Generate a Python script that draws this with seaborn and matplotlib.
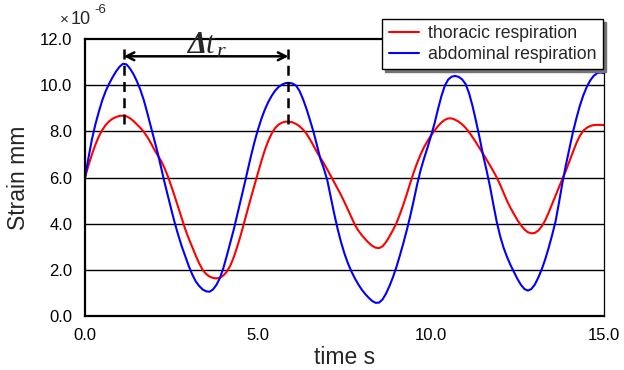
import pandas as pd
import numpy as np
import matplotlib
matplotlib.use("Agg")
import matplotlib.pyplot as plt
import seaborn as sns

# Datos: muestras cada 0.1 s (deformacion x1e-6)
t_s = np.round(np.arange(0, 151) * 0.1, 1)

v_thoracic = [
    6.0, 6.52, 7.0, 7.42, 7.78, 8.06, 8.28, 8.44, 8.55, 8.62,       # 0.0 - 0.9
    8.67, 8.68, 8.65, 8.57, 8.45, 8.3, 8.15, 7.98, 7.76, 7.5,       # 1.0 - 1.9
    7.22, 6.96, 6.72, 6.4, 6.03, 5.6, 5.15, 4.68, 4.2, 3.75,        # 2.0 - 2.9
    3.35, 2.98, 2.62, 2.28, 2.0, 1.82, 1.71, 1.65, 1.63, 1.66,      # 3.0 - 3.9
    1.76, 1.92, 2.18, 2.55, 3.0, 3.5, 4.05, 4.6, 5.15, 5.68,        # 4.0 - 4.9
    6.2, 6.72, 7.2, 7.6, 7.92, 8.15, 8.3, 8.38, 8.42, 8.42,         # 5.0 - 5.9
    8.39, 8.32, 8.22, 8.08, 7.9, 7.66, 7.39, 7.11, 6.86, 6.62,      # 6.0 - 6.9
    6.35, 6.08, 5.8, 5.52, 5.24, 4.93, 4.6, 4.26, 3.95, 3.7,        # 7.0 - 7.9
    3.5, 3.33, 3.17, 3.04, 2.96, 2.94, 3.02, 3.2, 3.45, 3.72,       # 8.0 - 8.9
    4.02, 4.4, 4.82, 5.28, 5.76, 6.22, 6.63, 7.0, 7.32, 7.58,       # 9.0 - 9.9
    7.82, 8.03, 8.22, 8.38, 8.5, 8.56, 8.56, 8.5, 8.42, 8.3,        # 10.0 - 10.9
    8.15, 7.97, 7.75, 7.52, 7.28, 7.04, 6.79, 6.54, 6.28, 6.0,      # 11.0 - 11.9
    5.68, 5.33, 4.98, 4.68, 4.41, 4.15, 3.93, 3.75, 3.63, 3.58,     # 12.0 - 12.9
    3.6, 3.7, 3.88, 4.14, 4.48, 4.85, 5.23, 5.6, 5.95, 6.3,         # 13.0 - 13.9
    6.7, 7.1, 7.48, 7.8, 8.02, 8.15, 8.23, 8.27, 8.28, 8.28,        # 14.0 - 14.9
    8.27]                                                           # 15.0

v_abdominal = [
    6.0, 6.85, 7.65, 8.3, 8.85, 9.35, 9.75, 10.07, 10.35, 10.6,     # 0.0 - 0.9
    10.8, 10.93, 10.9, 10.72, 10.48, 10.17, 9.8, 9.35, 8.8, 8.22,   # 1.0 - 1.9
    7.65, 7.07, 6.42, 5.78, 5.18, 4.58, 4.0, 3.48, 3.0, 2.58,       # 2.0 - 2.9
    2.16, 1.8, 1.5, 1.3, 1.15, 1.07, 1.05, 1.15, 1.35, 1.65,        # 3.0 - 3.9
    2.08, 2.62, 3.18, 3.75, 4.38, 5.0, 5.65, 6.3, 6.95, 7.55,       # 4.0 - 4.9
    8.08, 8.55, 8.95, 9.28, 9.55, 9.77, 9.93, 10.03, 10.09, 10.1,   # 5.0 - 5.9
    10.07, 9.98, 9.75, 9.4, 8.98, 8.5, 8.0, 7.42, 6.82, 6.4,        # 6.0 - 6.9
    5.9, 5.18, 4.45, 3.78, 3.2, 2.7, 2.28, 1.93, 1.63, 1.37,        # 7.0 - 7.9
    1.14, 0.95, 0.79, 0.65, 0.57, 0.58, 0.72, 0.97, 1.3, 1.68,      # 8.0 - 8.9
    2.12, 2.62, 3.15, 3.72, 4.33, 5.0, 5.7, 6.32, 6.83, 7.3,        # 9.0 - 9.9
    7.8, 8.33, 8.95, 9.52, 9.98, 10.25, 10.37, 10.4, 10.36, 10.25,  # 10.0 - 10.9
    10.05, 9.65, 9.1, 8.45, 7.75, 7.0, 6.35, 5.65, 4.85, 4.08,      # 11.0 - 11.9
    3.45, 2.95, 2.55, 2.2, 1.9, 1.6, 1.35, 1.17, 1.1, 1.17,         # 12.0 - 12.9
    1.36, 1.66, 2.02, 2.45, 2.95, 3.5, 4.1, 4.92, 5.78, 6.55,       # 13.0 - 13.9
    7.25, 7.95, 8.55, 9.1, 9.55, 9.92, 10.2, 10.4, 10.52, 10.55,    # 14.0 - 14.9
    10.52]                                                          # 15.0

series_names = ["thoracic respiration", "abdominal respiration"]
series_colors = ["#ff0000", "#0000ff"]
peak_times = [1.12, 5.88]
x_ticks = [0, 5, 10, 15]
y_ticks = [0, 2, 4, 6, 8, 10, 12]

df = pd.concat([
    pd.DataFrame({"t": t_s, "strain": v_thoracic, "serie": series_names[0]}),
    pd.DataFrame({"t": t_s, "strain": v_abdominal, "serie": series_names[1]}),
])

sns.set_style("white")
plt.rcParams['font.family'] = ['Liberation Sans', 'DejaVu Sans']

fig = plt.figure(figsize=(6.24, 3.70), dpi=100)
ax = fig.add_axes([85/624, 54/370, 519/624, 277/370])

sns.lineplot(data=df, x="t", y="strain", hue="serie",
             palette=dict(zip(series_names, series_colors)),
             linewidth=1.5, ax=ax, legend=False)

ax.set_xlim(0, 15)
ax.set_ylim(0, 12)
ax.set_xticks(x_ticks)
ax.set_xticklabels([f"{v:.1f}" for v in x_ticks])
ax.set_yticks(y_ticks)
ax.set_yticklabels([f"{v:.1f}" for v in y_ticks])
ax.tick_params(axis='x', direction='in', length=5, width=1.2, pad=9, labelsize=12, colors='black')
ax.tick_params(axis='y', direction='out', length=3, width=1, pad=6, labelsize=12, colors='black')
for y in y_ticks[1:-1]:
    ax.axhline(y, color='black', linewidth=1.0, zorder=0)

for side in ['left', 'bottom', 'top']:
    ax.spines[side].set_linewidth(1.6)
    ax.spines[side].set_color('black')
ax.spines['right'].set_linewidth(0.9)
ax.spines['right'].set_color('black')

ax.set_xlabel("time s", fontsize=16.5, labelpad=2)
ax.set_ylabel("Strain mm", fontsize=16.5, labelpad=7)

# Delta t_r entre los dos picos
for pt in peak_times:
    ax.plot([pt, pt], [8.3, 11.75], color='black', linestyle=(0, (4, 2.5)),
            linewidth=1.8, clip_on=False)
ax.annotate("", xy=(peak_times[0], 11.25), xytext=(peak_times[1], 11.25),
            arrowprops=dict(arrowstyle='<->', color='black', lw=1.8,
                            shrinkA=0, shrinkB=0, mutation_scale=14),
            annotation_clip=False)
serif = ['Liberation Serif', 'DejaVu Serif']
ax.text(2.96, 11.4, "Δ", fontsize=22, family=serif, style='italic', weight='bold',
        ha='left', va='baseline', clip_on=False)
ax.text(3.5, 11.4, "t", fontsize=22, family=serif, style='italic',
        ha='left', va='baseline', clip_on=False)
ax.text(3.78, 11.2, "r", fontsize=16, family=serif, style='italic',
        ha='left', va='baseline', clip_on=False)

fig.text(60/624, 1 - 24/370, "×", fontsize=11, va='baseline')
fig.text(71/624, 1 - 24/370, "10", fontsize=13, va='baseline')
fig.text(94/624, 1 - 13/370, "-6", fontsize=9.5, va='baseline')

handles = [plt.Line2D([], [], color=c, lw=1.5) for c in series_colors]
leg = fig.legend(handles, series_names, loc='upper right',
                 bbox_to_anchor=(603/624, 1 - 19/370), bbox_transform=fig.transFigure,
                 fontsize=12.7, frameon=True, fancybox=False,
                 shadow={'color': '0.45', 'alpha': 1},
                 edgecolor='black', framealpha=1, borderpad=0.35, labelspacing=0.2,
                 handlelength=1.7, handletextpad=0.55, borderaxespad=0)
leg.get_frame().set_linewidth(1.0)

fig.savefig("out.png", dpi=100)
